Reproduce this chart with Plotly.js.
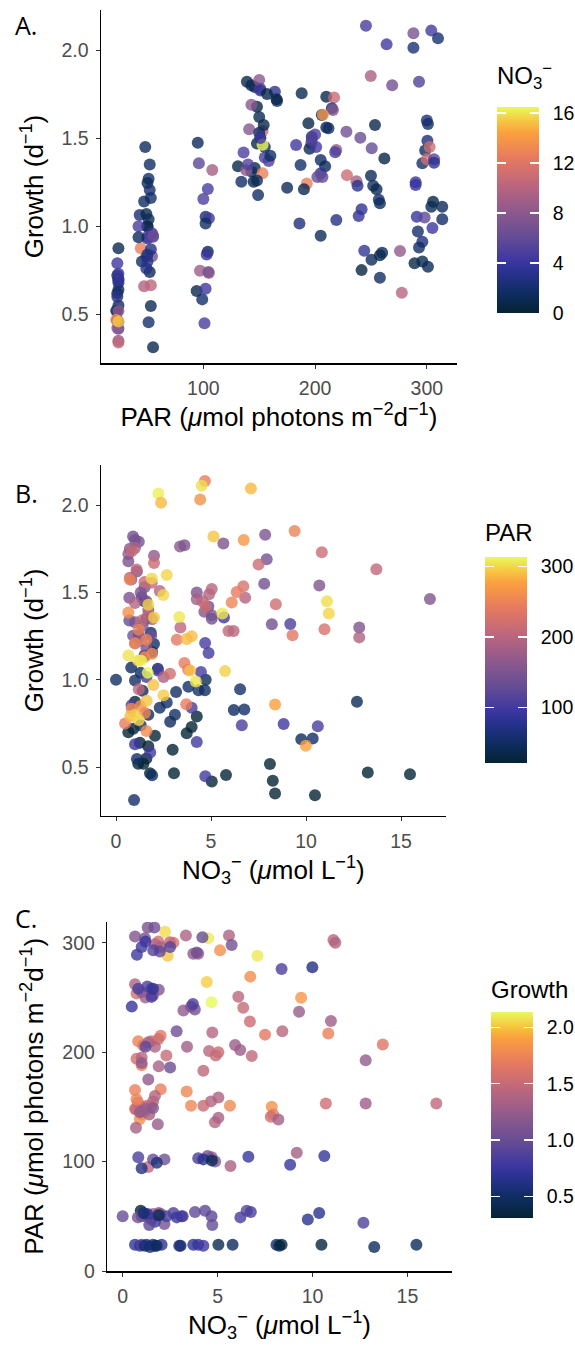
<!DOCTYPE html>
<html>
<head>
<meta charset="utf-8">
<script src="https://cdn.plot.ly/plotly-3.0.1.min.js"></script>
<style>
html,body{margin:0;padding:0;background:#fff;}
#chart{width:575px;height:1348px;}
</style>
</head>
<body>
<div id="chart"></div>
<script>
// ---- Data: one row per sample (PAR, NO3-, Growth) ----
const par = [
  24,23,24,23,24,22,24,23,24,23,23,23,24,24,23,24,24,24,23,24,24,22,24,
  50,55,48,52,51,50,52,53,47,43,49,51,50,50,54,55,50,42,55,49,54,47,53,44,50,45,52,53,51,42,53,49,50,
  95,96,108,104,100,102,105,102,104,103,97,105,104.5,94,102,99,101,
  139,143,146,150,151,164,166,165.5,148,143,153,150,154,141,150,148,151,155,136,155,158.5,131,146,143,153,134,145,148,149,153,138.5,151,157,151,140,160,
  188,210,217,215,216,206,207,212,210,194,197,196.5,195,183,201,219,205,209,187,205,206.6,202,192.6,190,175,186,219,205,197,200,218,
  245.5,264,249.8,269,228,240.5,250.7,253.6,262,228.5,237,238,250,252,255,257,258,241.6,239,244,250.5,258,260,241.6,258,276,277.6,
  288,304,310,288,293,300,301,300.5,298.5,302.5,296,300,306.5,306.5,290,290,305.6,313.8,304,313.8,291,298,305,292,296,293,289,296,301
];
const no3 = [
  0.65,0.91,1.0,1.17,1.26,1.44,1.6,1.7,2.05,1.79,3.05,2.98,3.72,3.98,4.25,5.04,5.79,8.1,8.25,8.37,10.47,13.25,15.47,
  0.0,0.95,1.49,1.6,1.83,1.2,2.0,1.9,1.5,2.2,0.8,1.3,1.0,3.16,3.81,4.34,4.68,4.72,6.53,6.2,6.75,9.75,10.35,12.68,2.3,1.7,1.3,1.1,1.9,1.4,2.67,2.85,3.1,
  1.35,5.68,9.17,4.69,4.87,2.2,4.47,1.6,0.82,3.98,8.82,10.62,6.62,1.0,4.25,1.8,4.7,
  0.9,1.0,1.2,7.85,5.65,3.37,2.0,0.65,0.65,7.93,10.7,1.1,0.8,7.8,1.5,0.7,1.3,1.6,4.86,4.65,5.04,0.7,1.0,1.4,12.8,1.85,0.9,1.2,1.6,16.52,8.2,3.6,0.73,4.25,5.04,1.7,
  1.0,0.82,10.83,2.0,7.5,1.08,13.7,1.88,1.5,0.73,2.3,6.8,1.0,4.25,4.55,8.41,1.7,1.35,1.9,3.39,5.92,6.19,12.8,1.0,1.35,2.5,2.84,1.2,4.9,5.04,4.72,
  4.68,4.43,9.4,6.72,6.7,6.35,6.09,0.73,0.65,10.97,9.29,3.2,1.2,1.6,1.0,1.9,1.5,3.6,3.8,3.7,1.52,0.82,1.3,0.48,1.6,8.37,9.99,
  7.1,4.51,2.23,2.37,5.13,2.67,1.88,2.49,1.7,11.1,2.0,11.2,5.6,3.33,3.72,3.98,0.65,1.32,1.17,1.67,3.9,5.74,4.2,1.96,2.5,1.61,0.75,1.0,1.2
];
const growth = [
  0.70,0.72,0.875,0.52,0.64,0.52,0.55,0.62,0.68,0.466,0.466,0.60,0.694,0.73,0.79,0.418,0.456,0.519,0.423,0.35,0.34,0.47,0.46,
  1.0,0.313,1.45,1.35,1.27,1.245,1.205,1.16,1.14,1.064,1.07,1.04,0.997,0.93,0.96,0.94,0.94,1.0,0.946,0.828,0.83,0.66,0.665,0.875,0.84,0.80,0.74,0.547,0.455,0.937,0.87,0.76,0.80,
  1.474,1.357,1.319,1.211,1.154,1.054,1.045,1.016,0.855,0.84,0.748,0.735,0.74,0.632,0.645,0.585,0.449,
  1.82,1.80,1.79,1.83,1.78,1.763,1.71,1.72,1.678,1.69,1.54,1.62,1.574,1.55,1.53,1.47,1.50,1.45,1.419,1.39,1.37,1.34,1.33,1.31,1.30,1.253,1.253,1.26,1.177,1.463,1.318,1.77,1.75,1.50,1.35,1.40,
  1.754,1.735,1.73,1.669,1.66,1.631,1.633,1.556,1.56,1.584,1.508,1.47,1.44,1.461,1.45,1.433,1.376,1.34,1.347,1.30,1.28,1.28,1.243,1.21,1.219,1.016,1.035,0.946,1.49,1.52,1.42,
  2.138,2.032,1.852,1.80,1.536,1.502,1.442,1.574,1.385,1.29,1.255,1.23,1.287,1.23,1.21,1.15,1.13,1.096,1.058,0.861,0.81,0.835,0.85,0.751,0.708,0.859,0.623,
  2.095,2.11,2.066,2.013,1.82,1.60,1.58,1.485,1.43,1.45,1.357,1.38,1.38,1.36,1.234,1.25,1.139,1.11,1.11,1.04,1.054,1.05,0.99,0.97,0.912,0.88,0.79,0.80,0.77
];

const panelLabels = ['A.', 'B.', 'C.'];
const no3Ticks = [0, 4, 8, 12, 16];
const parTicks = [100, 200, 300];
const growthTicks = [0.5, 1.0, 1.5, 2.0];

// cmocean "thermal"-like colour scale
const thermal = [
  [0.00,'#042333'],[0.10,'#0f2d63'],[0.20,'#2a3290'],[0.25,'#3b36a0'],
  [0.375,'#674d94'],[0.50,'#905a8c'],[0.625,'#bd677d'],[0.75,'#e67960'],
  [0.875,'#fba03e'],[0.94,'#f5cc45'],[1.00,'#e8fa5b']
];

const W = 575, H = 1348;
const px = v => v / W;
const py = v => 1 - v / H;
const FONT = 'Liberation Sans, Arial, Helvetica, sans-serif';
const BAR_LEN = 206, BAR_W = 42, TICK_L = 9;

function cbar(ticks, fmt, left, top, strip) {
  return {
    thickness: strip ? TICK_L : BAR_W, thicknessmode: 'pixels',
    len: BAR_LEN, lenmode: 'pixels',
    x: px(left), xanchor: 'left', xpad: 0,
    y: py(top + BAR_LEN / 2), yanchor: 'middle', ypad: 0,
    outlinewidth: 0,
    ticks: 'inside', ticklen: TICK_L, tickwidth: 1.5, tickcolor: '#ffffff',
    tickvals: ticks,
    ticktext: ticks.map(v => '\u00a0\u2009' + (fmt ? v.toFixed(fmt) : String(v))),
    showticklabels: !strip,
    tickfont: {family: FONT, size: 19.5, color: '#000'}
  };
}

function mk(x, y, c, xa, ya, cb, ghost) {
  return {
    type: 'scatter', mode: 'markers', x: x, y: y, xaxis: xa, yaxis: ya,
    hoverinfo: 'skip',
    marker: {
      size: 12, opacity: ghost ? 0 : 0.8, color: c, colorscale: thermal,
      cmin: Math.min(...c), cmax: Math.max(...c),
      line: {width: 0}, showscale: true, colorbar: cb
    }
  };
}

const cbPos = [[496.7, 106.7], [485, 556.7], [491, 1011.7]];
const traces = [
  mk(par, growth, no3, 'x', 'y', cbar(no3Ticks, 0, cbPos[0][0], cbPos[0][1], false)),
  mk(par, growth, no3, 'x', 'y', cbar(no3Ticks, 0, cbPos[0][0], cbPos[0][1], true), true),
  mk(no3, growth, par, 'x2', 'y2', cbar(parTicks, 0, cbPos[1][0], cbPos[1][1], false)),
  mk(no3, growth, par, 'x2', 'y2', cbar(parTicks, 0, cbPos[1][0], cbPos[1][1], true), true),
  mk(no3, par, growth, 'x3', 'y3', cbar(growthTicks, 1, cbPos[2][0], cbPos[2][1], false)),
  mk(no3, par, growth, 'x3', 'y3', cbar(growthTicks, 1, cbPos[2][0], cbPos[2][1], true), true)
];

function axis(dom, range, tickvals, fmt, title, standoff, extra) {
  return Object.assign({
    domain: dom, range: range, tickvals: tickvals,
    ticktext: tickvals.map(v => fmt ? v.toFixed(fmt) : String(v)),
    showline: true, linecolor: '#000', linewidth: 1.5, mirror: false,
    ticks: 'outside', ticklen: 4, tickwidth: 1, tickcolor: '#333',
    showgrid: false, zeroline: false, fixedrange: true,
    tickfont: {family: FONT, size: 19.5, color: '#4d4d4d'},
    ticklabelstandoff: 3,
    title: {text: title, font: {family: FONT, size: 26, color: '#000'}, standoff: standoff},
    automargin: false
  }, extra || {});
}

const parTitle = 'PAR (<i>μ</i>mol photons m<sup>−2</sup>d<sup>−1</sup>)';
const no3Title = 'NO<sub>3</sub><sup>−</sup> (<i>μ</i>mol L<sup>−1</sup>)';
const growthTitle = 'Growth (d<sup>−1</sup>)';
const cbTitles = ['NO<sub>3</sub><sup>−</sup>', 'PAR', 'Growth'];
const cbTitleY = [76, 532, 989];

const labelFont = {family: 'Open Sans, sans-serif', size: 25, color: '#000'};
const annotations = [
  {text: panelLabels[0], x: px(13), y: py(6), xref: 'paper', yref: 'paper', xanchor: 'left', yanchor: 'top', showarrow: false, font: labelFont},
  {text: panelLabels[1], x: px(13), y: py(474), xref: 'paper', yref: 'paper', xanchor: 'left', yanchor: 'top', showarrow: false, font: labelFont},
  {text: panelLabels[2], x: px(13), y: py(899), xref: 'paper', yref: 'paper', xanchor: 'left', yanchor: 'top', showarrow: false, font: labelFont}
];
cbTitles.forEach((t, i) => annotations.push({
  text: t, x: px(cbPos[i][0] - 2), y: py(cbTitleY[i]), xref: 'paper', yref: 'paper',
  xanchor: 'left', yanchor: 'middle', showarrow: false,
  font: {family: FONT, size: 24, color: '#000'}
}));

const layout = {
  width: W, height: H,
  margin: {l: 0, r: 0, t: 0, b: 0, autoexpand: false},
  paper_bgcolor: '#fff', plot_bgcolor: '#fff',
  showlegend: false,
  font: {family: FONT},
  xaxis:  axis([px(101), px(457)], [8.4, 327], parTicks, 0, parTitle, 8, {anchor: 'y'}),
  yaxis:  axis([py(363), py(10)], [0.224, 2.227], growthTicks, 1, growthTitle, 10, {anchor: 'x'}),
  xaxis2: axis([px(101), px(445.7)], [-0.79, 17.35], [0, 5, 10, 15], 0, no3Title, 8, {anchor: 'y2'}),
  yaxis2: axis([py(815.7), py(465)], [0.223, 2.229], growthTicks, 1, growthTitle, 10, {anchor: 'x2'}),
  xaxis3: axis([px(107.3), px(451.7)], [-0.81, 17.33], [0, 5, 10, 15], 0, no3Title, 8, {anchor: 'y3'}),
  yaxis3: axis([py(1271), py(921.7)], [0, 319.2], [0, 100, 200, 300], 0, parTitle, 11, {anchor: 'x3'}),
  annotations: annotations
};

Plotly.newPlot('chart', traces, layout, {staticPlot: true, displayModeBar: false});
</script>
</body>
</html>
